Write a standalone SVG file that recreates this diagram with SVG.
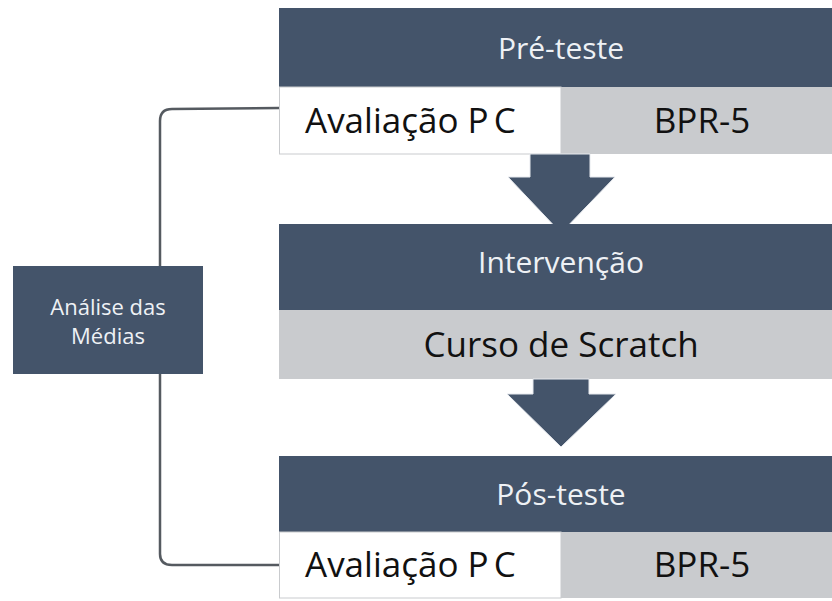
<svg xmlns="http://www.w3.org/2000/svg" width="832" height="601" viewBox="0 0 832 601">
  <style>
    .hdr { fill: #44546a; }
    .cellw { fill: #ffffff; stroke: #c9cbce; stroke-width: 1; }
    .cellg { fill: #c9cbce; }
    .arrow { fill: #44546a; stroke: #e6e9ee; stroke-width: 1; }
    .conn { fill: none; stroke: #555a60; stroke-width: 2.5; }
    .ht { font-family: "Open Sans", "Liberation Sans", sans-serif; font-size: 30px; fill: #eef1f5; text-anchor: middle; }
    .bt { font-family: "Open Sans", "Liberation Sans", sans-serif; font-size: 35px; fill: #111111; }
    .lt { font-family: "Open Sans", "Liberation Sans", sans-serif; font-size: 22px; fill: #eef1f5; text-anchor: middle; }
  </style>
  <rect width="832" height="601" fill="#ffffff"/>

  <g id="connectors">
    <path class="conn" d="M279,108 L172,109 Q160,109 160,121 L160,266"/>
    <path class="conn" d="M160,374 L160,554 Q160,565 172,565 L279,565"/>
  </g>

  <g id="pre-teste">
    <rect class="hdr" x="279" y="8" width="553" height="79"/>
    <text class="ht" x="561" y="59">Pré-teste</text>
    <rect class="cellw" x="279.5" y="87" width="281.5" height="67"/>
    <rect class="cellg" x="561" y="87" width="271" height="67"/>
    <text class="bt" x="305" y="133">Avaliação P<tspan word-spacing="-4"> C</tspan></text>
    <text class="bt" x="702" y="133" text-anchor="middle">BPR-5</text>
  </g>

  <g id="arrow1">
    <polygon class="arrow" points="530,154 590,154 590,177 615,177 561,233 508,177 530,177"/>
  </g>

  <g id="intervencao">
    <rect class="hdr" x="279" y="224" width="553" height="86"/>
    <text class="ht" x="561" y="273">Intervenção</text>
    <rect class="cellg" x="279" y="310" width="553" height="69"/>
    <text class="bt" x="561" y="357" text-anchor="middle">Curso de Scratch</text>
  </g>

  <g id="arrow2">
    <polygon class="arrow" points="533,379 589,379 589,394 616,394 561,447 507,394 533,394"/>
  </g>

  <g id="pos-teste">
    <rect class="hdr" x="279" y="456" width="553" height="76"/>
    <text class="ht" x="561" y="505">Pós-teste</text>
    <rect class="cellw" x="279.5" y="532" width="281.5" height="66"/>
    <rect class="cellg" x="561" y="532" width="271" height="66"/>
    <text class="bt" x="305" y="577">Avaliação P<tspan word-spacing="-4"> C</tspan></text>
    <text class="bt" x="702" y="577" text-anchor="middle">BPR-5</text>
  </g>

  <g id="analise">
    <rect class="hdr" x="13" y="266" width="190" height="108"/>
    <text class="lt" x="108" y="315">Análise das</text>
    <text class="lt" x="108" y="344">Médias</text>
  </g>
</svg>
